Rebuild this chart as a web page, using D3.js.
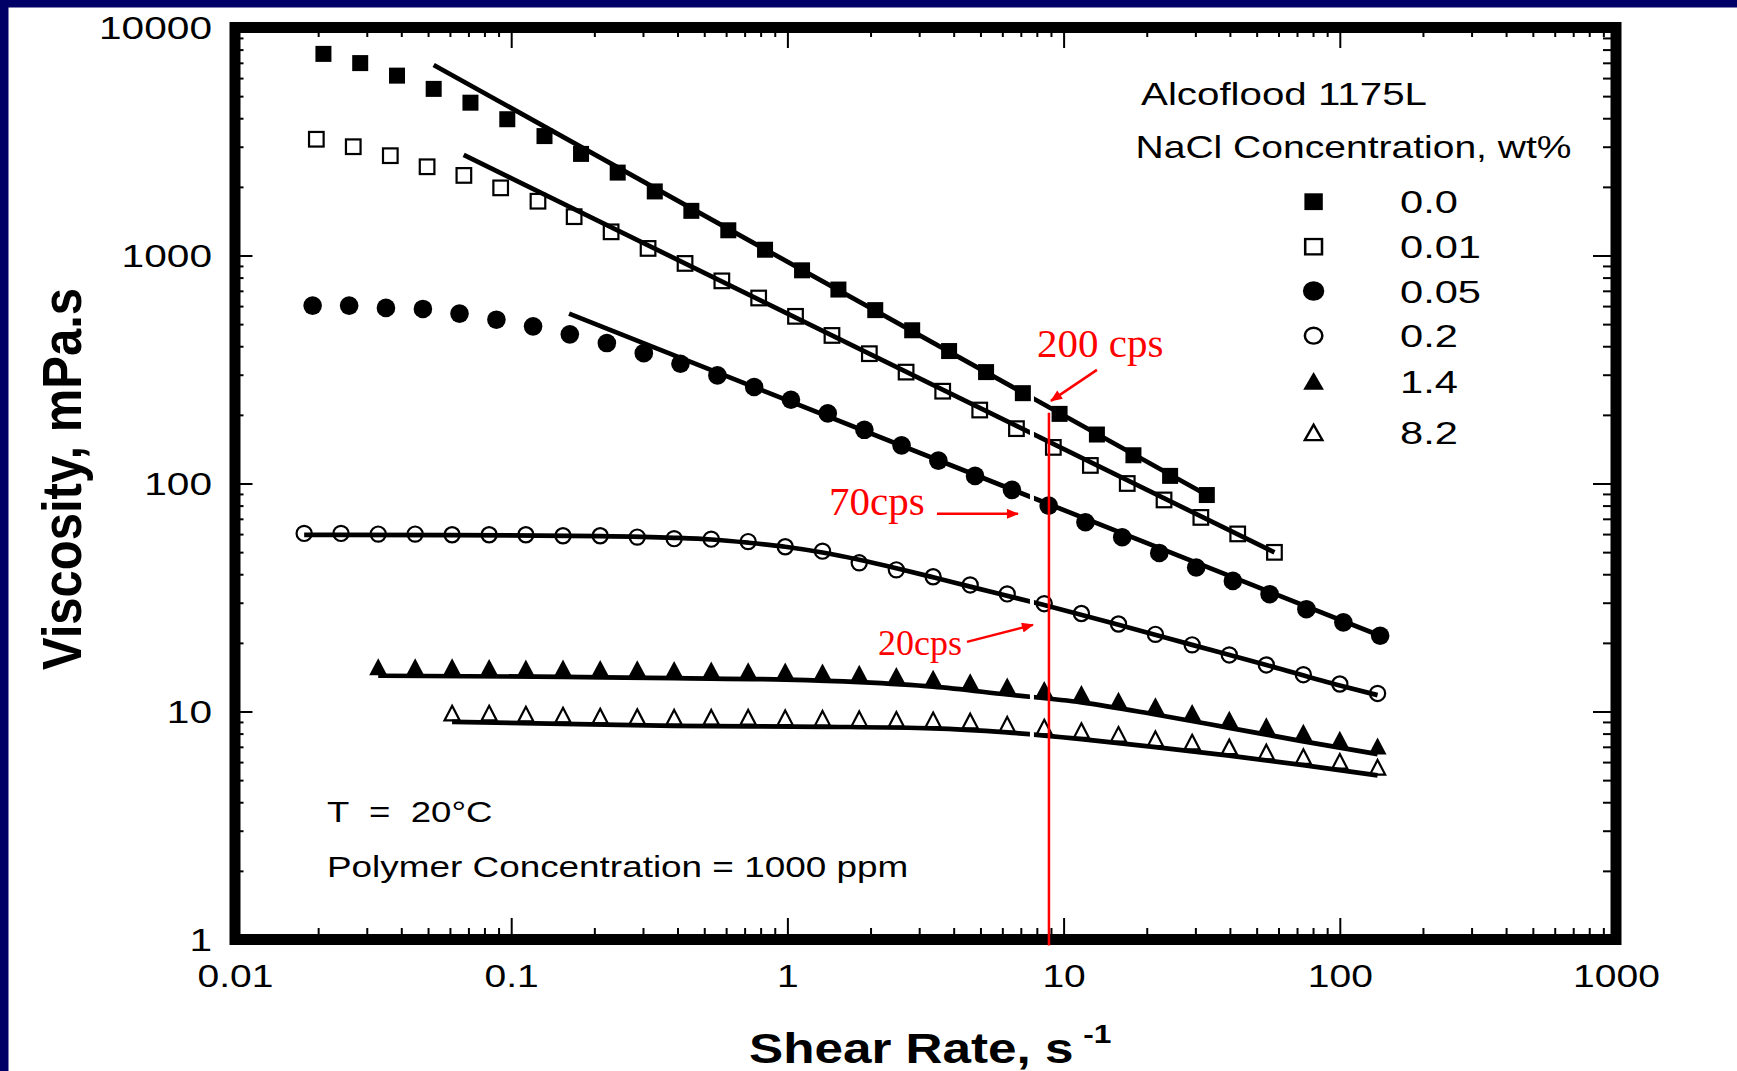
<!DOCTYPE html>
<html><head><meta charset="utf-8">
<script src="https://cdn.jsdelivr.net/npm/d3@7"></script>
<style>
html,body{margin:0;padding:0;background:#000066;}
svg{display:block;}
text{font-family:"Liberation Sans",Arial,Helvetica,sans-serif;}
</style></head><body>
<svg id="chart" width="1737" height="1071"></svg>
<script>
// ---------------- DATA ----------------
const concLabels = ["0.0", "0.01", "0.05", "0.2", "1.4", "8.2"];
const xTicks = [0.01, 0.1, 1, 10, 100, 1000];
const xTickLabels = ["0.01", "0.1", "1", "10", "100", "1000"];
const yTicks = [1, 10, 100, 1000, 10000];
const yTickLabels = ["1", "10", "100", "1000", "10000"];

// NaCl 0.0 wt%
const shear_0_0 = [0.0209, 0.0284, 0.0386, 0.0524, 0.0712, 0.0968, 0.132, 0.179, 0.243, 0.331, 0.449, 0.611, 0.830, 1.13, 1.53, 2.08, 2.83, 3.85, 5.24, 7.12, 9.67, 13.2, 17.9, 24.3, 33.0];
const visc_0_0  = [7660, 6980, 6150, 5380, 4680, 3960, 3340, 2790, 2310, 1910, 1570, 1290, 1060, 861, 709, 576, 470, 381, 308, 249, 202, 164, 133, 108, 89];
const fitShear_0_0 = [0.0524, 33.0];
const fitVisc_0_0  = [6850, 89];

// NaCl 0.01 wt%
const shear_0_01 = [0.0197, 0.0268, 0.0365, 0.0496, 0.0674, 0.0916, 0.125, 0.169, 0.230, 0.313, 0.426, 0.579, 0.787, 1.07, 1.45, 1.98, 2.69, 3.65, 4.97, 6.75, 9.18, 12.5, 17.0, 23.1, 31.4, 42.7, 58.0];
const visc_0_01  = [3235, 3000, 2740, 2450, 2245, 1980, 1730, 1480, 1270, 1074, 923, 774, 651, 541, 446, 371, 308, 254, 210, 174, 144, 120, 100, 84.7, 71.0, 60.1, 49.9];
const fitShear_0_01 = [0.0673, 58.0];
const fitVisc_0_01  = [2760, 49.9];

// NaCl 0.05 wt%
const shear_0_05 = [0.0191, 0.0259, 0.0352, 0.0479, 0.0650, 0.0884, 0.120, 0.163, 0.222, 0.302, 0.410, 0.558, 0.758, 1.03, 1.40, 1.90, 2.59, 3.52, 4.78, 6.50, 8.83, 12.0, 16.3, 22.2, 30.2, 41.0, 55.7, 75.7, 103, 140];
const visc_0_05  = [603, 603, 589, 583, 556, 523, 489, 451, 413, 373, 335, 298, 265, 233, 203, 172, 147, 126, 108, 93.8, 80.0, 67.6, 58.1, 49.6, 42.8, 37.4, 32.7, 28.1, 24.6, 21.5];
const fitShear_0_05 = [0.162, 140];
const fitVisc_0_05  = [556, 21.5];

// NaCl 0.2 wt%
const shear_0_2 = [0.0178, 0.0242, 0.0330, 0.0449, 0.0611, 0.0832, 0.113, 0.154, 0.210, 0.286, 0.389, 0.530, 0.721, 0.982, 1.34, 1.82, 2.48, 3.37, 4.59, 6.25, 8.51, 11.6, 15.8, 21.5, 29.2, 39.8, 54.2, 73.8, 100, 137];
const visc_0_2  = [60.4, 60.4, 60.0, 60.0, 59.6, 59.6, 59.6, 59.0, 59.0, 58.2, 57.3, 57.0, 55.6, 52.8, 50.5, 44.9, 41.8, 39.0, 35.9, 32.8, 29.7, 26.9, 24.2, 21.8, 19.6, 17.7, 16.0, 14.5, 13.2, 12.0];
const fitShear_0_2 = [0.0178, 0.0611, 0.210, 0.389, 0.530, 0.721, 0.982, 1.34, 1.82, 2.48, 3.37, 4.59, 8.51, 15.8, 29.2, 54.2, 100, 137];
const fitVisc_0_2  = [59.5, 59.4, 58.8, 57.8, 56.8, 55.0, 52.8, 49.8, 46.3, 42.5, 38.8, 35.3, 29.3, 24.0, 19.6, 16.0, 13.0, 11.8];

// NaCl 1.4 wt%
const shear_1_4 = [0.0330, 0.0449, 0.0611, 0.0832, 0.113, 0.154, 0.210, 0.286, 0.389, 0.530, 0.721, 0.982, 1.34, 1.82, 2.48, 3.37, 4.59, 6.25, 8.51, 11.6, 15.8, 21.5, 29.2, 39.8, 54.2, 73.8, 100, 137];
const visc_1_4  = [15.7, 15.7, 15.7, 15.6, 15.5, 15.5, 15.45, 15.4, 15.3, 15.2, 15.1, 15.05, 14.9, 14.7, 14.4, 14.0, 13.5, 12.95, 12.5, 12.0, 11.2, 10.6, 9.9, 9.25, 8.65, 8.1, 7.55, 7.05];
const fitShear_1_4 = [0.0330, 0.154, 0.389, 0.982, 1.82, 3.37, 6.25, 11.6, 21.5, 39.8, 73.8, 137];
const fitVisc_1_4  = [14.35, 14.2, 14.0, 13.8, 13.45, 12.85, 11.87, 10.97, 9.7, 8.48, 7.4, 6.5];

// NaCl 8.2 wt%
const shear_8_2 = [0.0611, 0.0832, 0.113, 0.154, 0.210, 0.286, 0.389, 0.530, 0.721, 0.982, 1.34, 1.82, 2.48, 3.37, 4.59, 6.25, 8.51, 11.6, 15.8, 21.5, 29.2, 39.8, 54.2, 73.8, 100, 137];
const visc_8_2  = [9.85, 9.85, 9.75, 9.65, 9.55, 9.5, 9.45, 9.45, 9.45, 9.4, 9.35, 9.3, 9.25, 9.2, 9.1, 8.8, 8.55, 8.25, 7.95, 7.6, 7.35, 7.0, 6.65, 6.35, 6.05, 5.7];
const fitShear_8_2 = [0.0611, 0.389, 1.34, 3.37, 6.25, 11.6, 21.5, 39.8, 73.8, 137];
const fitVisc_8_2  = [9.0, 8.65, 8.57, 8.44, 8.1, 7.57, 6.98, 6.4, 5.82, 5.25];

// red annotation
const refShear = 8.85;            // s^-1, vertical red marker
const annoLabels = ["200 cps", "70cps", "20cps"];
const annoVisc = [200, 70, 20];

// ---------------- LAYOUT ----------------
const W = 1737, H = 1071;
const L = 235, R = 1616, T = 27.5, B = 939.5;
const SX = 1.22; // horizontal stretch of the original figure text

const svg = d3.select("#chart");
svg.append("rect").attr("width", W).attr("height", H).attr("fill", "#000066");
svg.append("rect").attr("x", 8.5).attr("y", 7.5).attr("width", W).attr("height", H).attr("fill", "#ffffff");

const x = d3.scaleLog().domain([0.01, 1000]).range([L, R]);
const y = d3.scaleLog().domain([1, 10000]).range([B, T]);

const isPow10 = v => Math.abs(Math.log10(v) - Math.round(Math.log10(v))) < 1e-9;
const xMinor = x.ticks().filter(v => !isPow10(v));
const yMinor = y.ticks().filter(v => !isPow10(v));

function styleAxis(g) {
  g.select(".domain").remove();
  g.attr("color", "#000");
  g.selectAll(".tick line").attr("stroke-width", 2);
}

// bottom
svg.append("g").attr("transform", `translate(0,${B})`)
  .call(d3.axisBottom(x).tickValues(xMinor).tickSize(-11.5).tickFormat(""))
  .call(styleAxis);
const gxB = svg.append("g").attr("transform", `translate(0,${B})`)
  .call(d3.axisBottom(x).tickValues(xTicks).tickSize(-21.5).tickFormat((d, i) => xTickLabels[i]))
  .call(styleAxis);
gxB.attr("font-family", null).attr("font-size", null);
gxB.selectAll("text").attr("y", 0).attr("dy", 0)
  .attr("transform", `translate(0,47.5) scale(${SX},1)`)
  .style("font-size", "32px").attr("fill", "#000");

// top
svg.append("g").attr("transform", `translate(0,${T})`)
  .call(d3.axisTop(x).tickValues(xMinor).tickSize(-9.5).tickFormat(""))
  .call(styleAxis);
svg.append("g").attr("transform", `translate(0,${T})`)
  .call(d3.axisTop(x).tickValues(xTicks).tickSize(-20.5).tickFormat(""))
  .call(styleAxis);

// left
svg.append("g").attr("transform", `translate(${L},0)`)
  .call(d3.axisLeft(y).tickValues(yMinor).tickSize(-8.5).tickFormat(""))
  .call(styleAxis);
const gyL = svg.append("g").attr("transform", `translate(${L},0)`)
  .call(d3.axisLeft(y).tickValues(yTicks).tickSize(-17.5).tickFormat((d, i) => yTickLabels[i]))
  .call(styleAxis);
gyL.attr("font-family", null).attr("font-size", null);
gyL.selectAll("text").attr("x", 0).attr("dy", "0.35em")
  .attr("transform", `translate(-23,0) scale(1.27,1)`)
  .style("font-size", "32px").attr("fill", "#000");

// right
svg.append("g").attr("transform", `translate(${R},0)`)
  .call(d3.axisRight(y).tickValues(yMinor).tickSize(-13).tickFormat(""))
  .call(styleAxis);
svg.append("g").attr("transform", `translate(${R},0)`)
  .call(d3.axisRight(y).tickValues(yTicks).tickSize(-23).tickFormat(""))
  .call(styleAxis);

// ---------------- SERIES ----------------
const zip = (a, b) => a.map((v, i) => [v, b[i]]);
const series = [
  {label: concLabels[0], pts: zip(shear_0_0, visc_0_0), fit: zip(fitShear_0_0, fitVisc_0_0), sym: "sqF"},
  {label: concLabels[1], pts: zip(shear_0_01, visc_0_01), fit: zip(fitShear_0_01, fitVisc_0_01), sym: "sqO"},
  {label: concLabels[2], pts: zip(shear_0_05, visc_0_05), fit: zip(fitShear_0_05, fitVisc_0_05), sym: "ciF"},
  {label: concLabels[3], pts: zip(shear_0_2, visc_0_2), fit: zip(fitShear_0_2, fitVisc_0_2), sym: "ciO"},
  {label: concLabels[4], pts: zip(shear_1_4, visc_1_4), fit: zip(fitShear_1_4, fitVisc_1_4), sym: "trF"},
  {label: concLabels[5], pts: zip(shear_8_2, visc_8_2), fit: zip(fitShear_8_2, fitVisc_8_2), sym: "trO"}
];

const line = d3.line().x(d => x(d[0])).y(d => y(d[1])).curve(d3.curveMonotoneX);

const gLines = svg.append("g");
series.forEach(s => {
  gLines.append("path").attr("d", line(s.fit))
    .attr("fill", "none").attr("stroke", "#000").attr("stroke-width", 4.7);
});

// small white gap in the fitted lines just left of the red marker
const xr = x(refShear);
svg.append("rect").attr("x", xr - 19).attr("y", y(250))
  .attr("width", 4).attr("height", y(6.5) - y(250)).attr("fill", "#fff");

function drawSymbol(g, type) {
  switch (type) {
    case "sqF": g.append("rect").attr("x", -8).attr("y", -8).attr("width", 16).attr("height", 16).attr("fill", "#000"); break;
    case "sqO": g.append("rect").attr("x", -7.3).attr("y", -7.3).attr("width", 14.6).attr("height", 14.6)
                  .attr("fill", "none").attr("stroke", "#000").attr("stroke-width", 2.2); break;
    case "ciF": g.append("circle").attr("r", 9.3).attr("fill", "#000"); break;
    case "ciO": g.append("circle").attr("r", 7.6).attr("fill", "none").attr("stroke", "#000").attr("stroke-width", 2.2); break;
    case "trF": g.append("path").attr("d", "M0,-8.5L9,8.3L-9,8.3Z").attr("fill", "#000"); break;
    case "trO": g.append("path").attr("d", "M0,-7.2L7.6,7.4L-7.6,7.4Z").attr("fill", "none")
                  .attr("stroke", "#000").attr("stroke-width", 2.2).attr("stroke-linejoin", "miter"); break;
  }
}

series.forEach(s => {
  const g = svg.append("g");
  s.pts.forEach(p => {
    const m = g.append("g").attr("transform", `translate(${x(p[0])},${y(p[1])})`);
    drawSymbol(m, s.sym);
  });
});

// ---------------- FRAME ----------------
svg.append("rect").attr("x", L).attr("y", T).attr("width", R - L).attr("height", B - T)
  .attr("fill", "none").attr("stroke", "#000").attr("stroke-width", 11);

// ---------------- LEGEND & NOTES ----------------
function stretchedText(px, py, str, size, weight, sx) {
  return svg.append("text").attr("transform", `translate(${px},${py}) scale(${sx || SX},1)`)
    .style("font-size", size + "px").style("font-weight", weight || "normal")
    .style("white-space", "pre").attr("fill", "#000").text(str);
}
stretchedText(1141, 105, "Alcoflood 1175L", 32, "normal", 1.26);
stretchedText(1135.5, 158, "NaCl Concentration, wt%", 32);

const legendY = [201.7, 246.7, 291, 335.7, 381, 432.3];
series.forEach((s, i) => {
  const g = svg.append("g").attr("transform", `translate(1313.6,${legendY[i]}) scale(1.15,1.05)`);
  drawSymbol(g, s.sym);
  stretchedText(1400, legendY[i], s.label, 32, "normal", 1.3).attr("dy", "0.36em");
});

stretchedText(327, 821.7, "T  =  20\u00B0C", 30);
stretchedText(327, 877, "Polymer Concentration = 1000 ppm", 30, "normal", 1.23);

// axis titles
svg.append("text").attr("transform", `translate(81,479) scale(1.12,1) rotate(-90)`)
  .attr("text-anchor", "middle").style("font-size", "49px").style("font-weight", "bold")
  .attr("fill", "#000").text("Viscosity, mPa.s");
const xt = stretchedText(749, 1063, "Shear Rate, s", 42, "bold");
xt.append("tspan").attr("dx", 8).attr("dy", -20).style("font-size", "26px").text("-1");

// ---------------- RED ANNOTATIONS ----------------
const defs = svg.append("defs");
defs.append("marker").attr("id", "arr").attr("viewBox", "0 0 12 10").attr("refX", 11).attr("refY", 5)
  .attr("markerWidth", 13).attr("markerHeight", 10).attr("markerUnits", "userSpaceOnUse").attr("orient", "auto")
  .append("path").attr("d", "M0,0L12,5L0,10Z").attr("fill", "#f00");

svg.append("line").attr("x1", xr).attr("x2", xr).attr("y1", y(annoVisc[0]) - 2).attr("y2", B + 6)
  .attr("stroke", "#f00").attr("stroke-width", 2.5);

const red = (px, py, str, size) => svg.append("text").attr("x", px).attr("y", py)
  .style("font-family", "'Liberation Serif','Times New Roman',serif").style("font-size", size + "px")
  .attr("fill", "#f00").text(str);
const arrow = (x1, y1, x2, y2) => svg.append("line").attr("x1", x1).attr("y1", y1).attr("x2", x2).attr("y2", y2)
  .attr("stroke", "#f00").attr("stroke-width", 2.5).attr("marker-end", "url(#arr)");

const y200 = y(annoVisc[0]), y70 = y(annoVisc[1]), y20 = y(annoVisc[2]);
red(xr - 12, y200 - 58, annoLabels[0], 41);
arrow(xr + 48, y200 - 45, xr + 2, y200 - 14);
red(xr - 220, y70 - 4, annoLabels[1], 41);
arrow(xr - 112, y70 - 5, xr - 31, y70 - 5);
red(xr - 171, y20 + 12, annoLabels[2], 36);
arrow(xr - 82, y20 - 1, xr - 16, y20 - 18);
</script>
</body></html>
